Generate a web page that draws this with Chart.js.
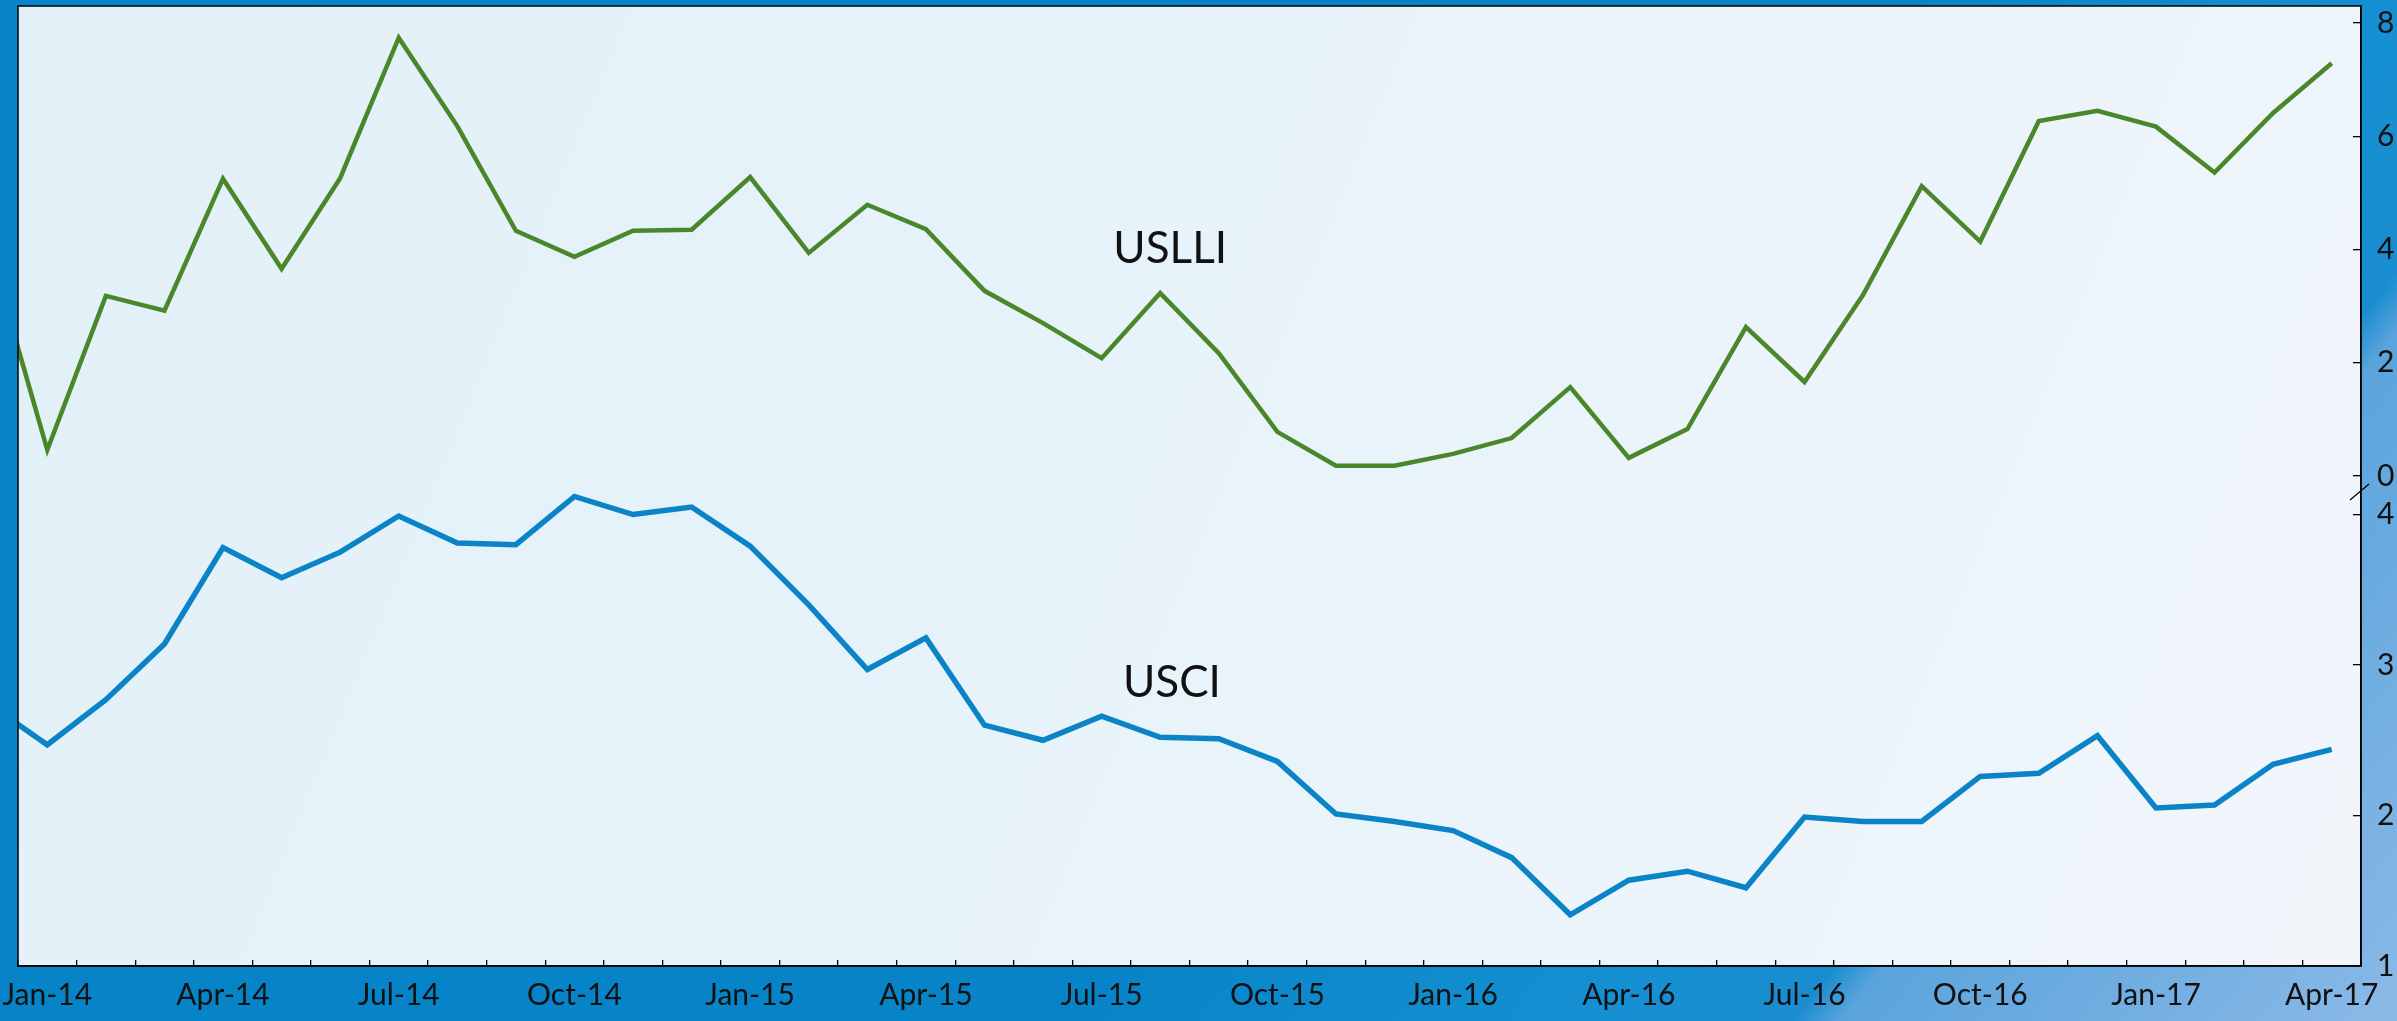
<!DOCTYPE html>
<html lang="en">
  <head>
    <meta charset="utf-8" />
    <title>USLLI and USCI</title>
    <style>
      * {
        margin: 0;
        padding: 0;
      }
      body {
        background: #0784c8;
        overflow: hidden;
      }
    </style>
  </head>
  <body>
    <canvas id="myChart" width="2397" height="1021"></canvas>

    <script src="https://cdn.jsdelivr.net/npm/chart.js@4.4.0/dist/chart.umd.min.js"></script>

    <script>
      // Dec-13 is only there so the lines run into the left edge
      const months = [
        "Dec-13",
        "Jan-14", "Feb-14", "Mar-14", "Apr-14", "May-14", "Jun-14",
        "Jul-14", "Aug-14", "Sep-14", "Oct-14", "Nov-14", "Dec-14",
        "Jan-15", "Feb-15", "Mar-15", "Apr-15", "May-15", "Jun-15",
        "Jul-15", "Aug-15", "Sep-15", "Oct-15", "Nov-15", "Dec-15",
        "Jan-16", "Feb-16", "Mar-16", "Apr-16", "May-16", "Jun-16",
        "Jul-16", "Aug-16", "Sep-16", "Oct-16", "Nov-16", "Dec-16",
        "Jan-17", "Feb-17", "Mar-17", "Apr-17",
      ];

      const uslli = [
        4.07,
        0.46, 3.18, 2.92, 5.25, 3.66, 5.26, 7.74, 6.18, 4.33, 3.87, 4.33, 4.35,
        5.28, 3.94, 4.79, 4.36, 3.27, 2.7, 2.08, 3.23, 2.17, 0.78, 0.18, 0.18,
        0.39, 0.67, 1.57, 0.32, 0.83, 2.63, 1.66, 3.2, 5.12, 4.14, 6.27, 6.45,
        6.17, 5.36, 6.41, 7.29,
      ];

      const usci = [
        2.74,
        2.47, 2.77, 3.14, 3.78, 3.58, 3.75, 3.99, 3.81, 3.8, 4.12, 4.0, 4.05,
        3.79, 3.4, 2.97, 3.18, 2.6, 2.5, 2.66, 2.52, 2.51, 2.36, 2.01, 1.96,
        1.9, 1.72, 1.34, 1.57, 1.63, 1.52, 1.99, 1.96, 1.96, 2.26, 2.28, 2.53,
        2.05, 2.07, 2.34, 2.44,
      ];

      const quarterMonths = ["Jan", "Apr", "Jul", "Oct"];
      const upperTicks = [0, 2, 4, 6, 8];
      const lowerTicks = [1, 2, 3, 4];

      const backdrop = {
        id: "backdrop",
        beforeDraw(chart) {
          const { ctx, width, height, chartArea: a } = chart;
          ctx.save();

          const g = ctx.createLinearGradient(
            width * 0.647, height * 0.41, width, height * 1.08
          );
          g.addColorStop(0, "#0784c8");
          g.addColorStop(0.38, "#1590d2");
          g.addColorStop(0.52, "#1a8dd0");
          g.addColorStop(0.555, "#5aa4dc");
          g.addColorStop(0.93, "#88b8e6");
          g.addColorStop(1, "#8dbce8");
          ctx.fillStyle = "#0784c8";
          ctx.fillRect(0, 0, width, height);
          ctx.fillStyle = g;
          ctx.fillRect(0, 0, width, height);

          const p = ctx.createLinearGradient(a.left, a.top, a.right, a.bottom);
          p.addColorStop(0, "#e2f0f8");
          p.addColorStop(0.55, "#e8f3fa");
          p.addColorStop(1, "#f1f6fb");
          ctx.fillStyle = p;
          ctx.fillRect(a.left, a.top, a.right - a.left, a.bottom - a.top);
          ctx.restore();
        },
        afterDraw(chart) {
          const { ctx, chartArea: a, scales } = chart;
          ctx.save();

          ctx.strokeStyle = "#000";
          ctx.lineWidth = 1.5;
          ctx.strokeRect(a.left, a.top, a.right - a.left, a.bottom - a.top);

          // axis break between the two stacked scales
          const y0 = scales.yTop.getPixelForValue(0);
          ctx.lineWidth = 1.3;
          ctx.beginPath();
          ctx.moveTo(a.right - 11, y0 + 24);
          ctx.lineTo(a.right + 8, y0 + 8);
          ctx.stroke();

          // series names
          ctx.fillStyle = "#111";
          ctx.font = "44px Lato";
          ctx.textAlign = "center";
          ctx.textBaseline = "alphabetic";
          ctx.fillText(
            "USLLI",
            scales.x.getPixelForValue(20.17),
            scales.yTop.getPixelForValue(3.76)
          );
          ctx.fillText(
            "USCI",
            scales.x.getPixelForValue(20.2),
            scales.yBot.getPixelForValue(2.79)
          );
          ctx.restore();
        },
      };

      const tickFont = { family: "Lato", size: 30 };

      // fixed axis sizes, and no extra room for overhanging tick labels
      const fitX = (scale) => {
        scale.paddingLeft = 0;
        scale.paddingRight = 0;
        scale.height = 47;
      };
      const fitY = (scale) => {
        scale.paddingTop = 0;
        scale.paddingBottom = 0;
        scale.width = 34;
      };

      const config = {
        type: "line",
        data: {
          labels: months,
          datasets: [
            {
              label: "USLLI",
              data: uslli,
              yAxisID: "yTop",
              borderColor: "#4a862a",
              borderWidth: 4.5,
              pointRadius: 0,
              tension: 0,
              clip: 0,
            },
            {
              label: "USCI",
              data: usci,
              yAxisID: "yBot",
              borderColor: "#0a84c6",
              borderWidth: 5.5,
              pointRadius: 0,
              tension: 0,
              clip: 0,
            },
          ],
        },
        options: {
          responsive: false,
          devicePixelRatio: 1,
          animation: false,
          layout: { padding: { left: 18, top: 6, right: 2, bottom: 8 } },
          plugins: {
            legend: { display: false },
            tooltip: { enabled: false },
          },
          scales: {
            x: {
              type: "category",
              min: "Jan-14",
              offset: true,
              afterFit: fitX,
              border: { display: true, color: "#000", width: 1.5 },
              grid: {
                offset: true,
                drawOnChartArea: false,
                color: "#000",
                lineWidth: 1.3,
                tickLength: -6,
              },
              ticks: {
                autoSkip: false,
                maxRotation: 0,
                padding: 17,
                color: "#111",
                font: tickFont,
                callback: function (value) {
                  const label = this.getLabelForValue(value);
                  return quarterMonths.includes(label.slice(0, 3)) ? label : "";
                },
              },
            },
            yTop: {
              type: "linear",
              position: "right",
              stack: "axis",
              stackWeight: 470,
              min: 0,
              max: 8.3,
              afterFit: fitY,
              border: { display: true, color: "#000", width: 1.5 },
              grid: {
                drawOnChartArea: false,
                color: "#000",
                lineWidth: 1.3,
                tickLength: -8,
              },
              afterBuildTicks: (scale) => {
                scale.ticks = upperTicks.map((v) => ({ value: v }));
              },
              ticks: { padding: 24, color: "#111", font: tickFont },
            },
            yBot: {
              type: "linear",
              position: "right",
              stack: "axis",
              stackWeight: 490,
              min: 1,
              max: 4.256,
              afterFit: fitY,
              border: { display: true, color: "#000", width: 1.5 },
              grid: {
                drawOnChartArea: false,
                color: "#000",
                lineWidth: 1.3,
                tickLength: -8,
              },
              afterBuildTicks: (scale) => {
                scale.ticks = lowerTicks.map((v) => ({ value: v }));
              },
              ticks: { padding: 24, color: "#111", font: tickFont },
            },
          },
        },
        plugins: [backdrop],
      };

      const myChart = new Chart(document.getElementById("myChart"), config);
    </script>
  </body>
</html>
